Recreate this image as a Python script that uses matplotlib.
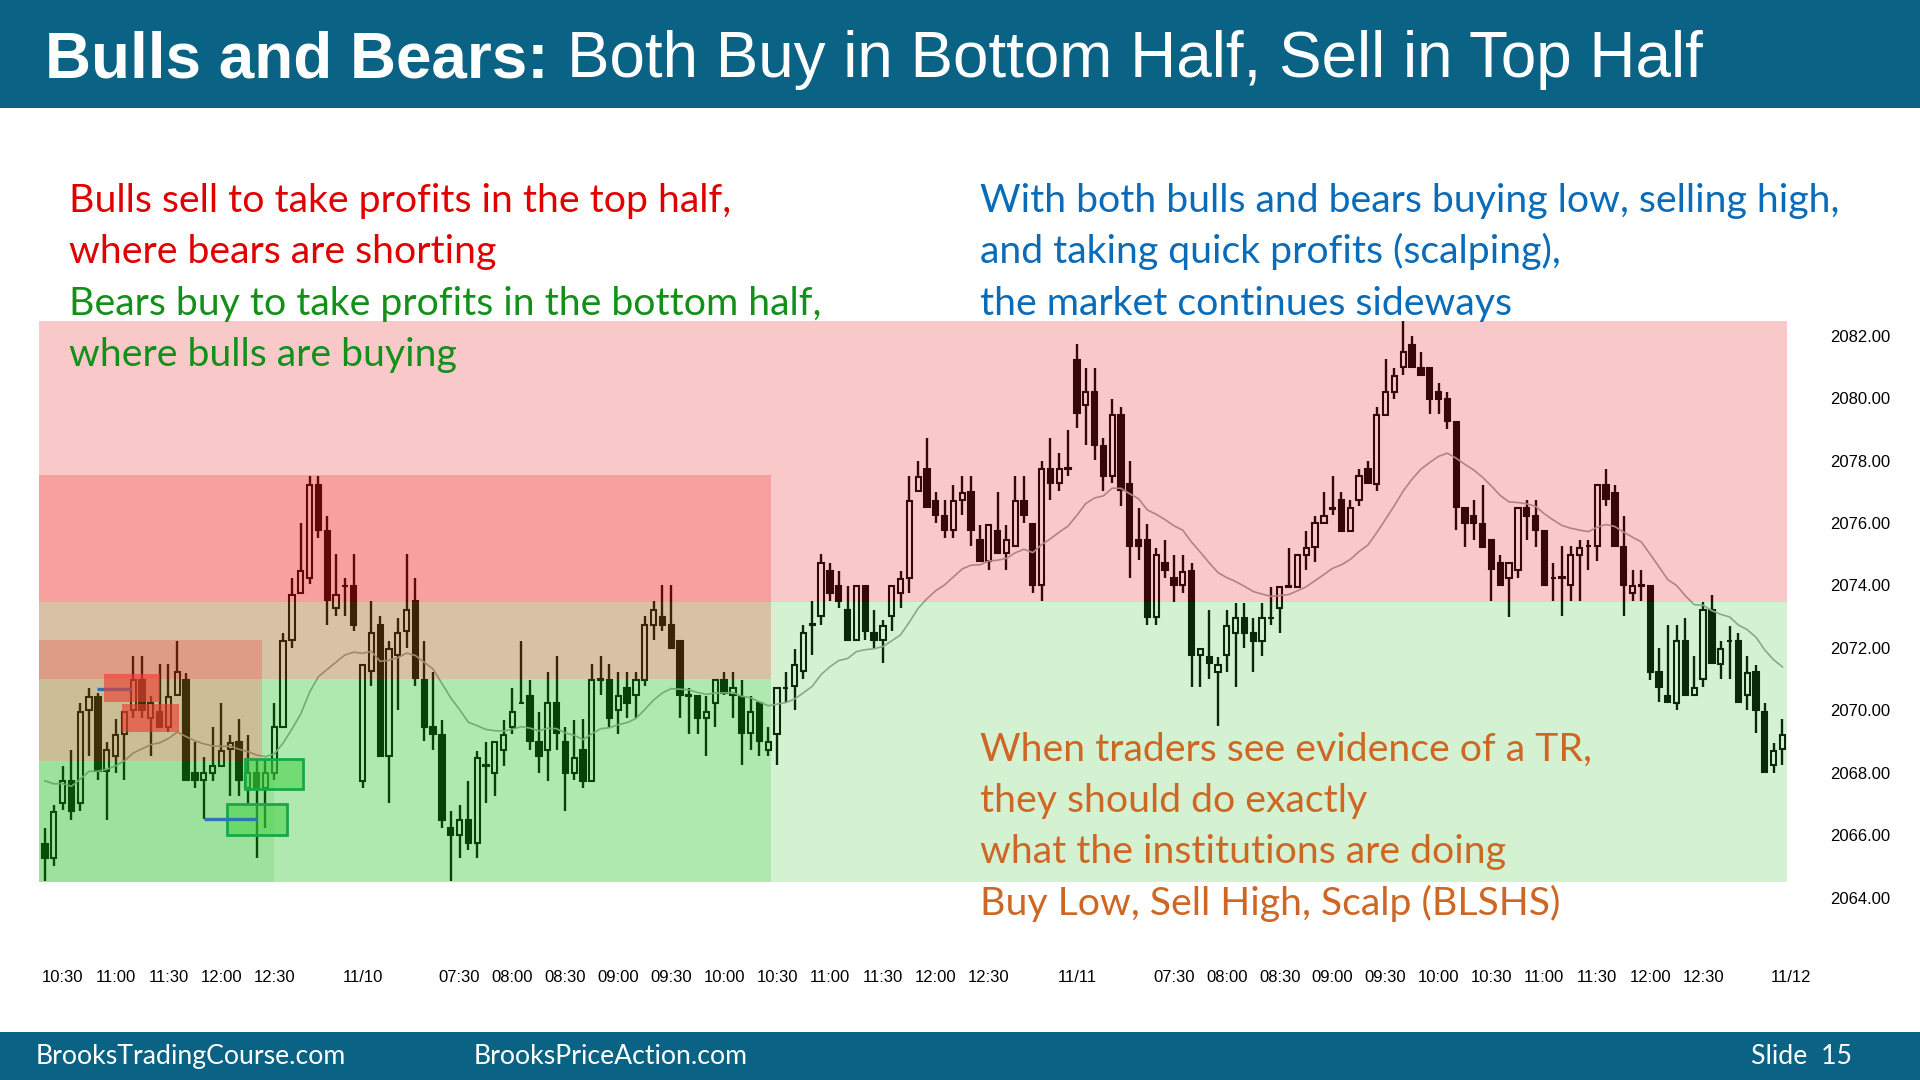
import numpy as np
import pandas as pd
import matplotlib
matplotlib.use("Agg")
import matplotlib.pyplot as plt
from matplotlib.patches import Rectangle
import matplotlib.colors as mcolors

W, H, DPI = 1920, 1080, 100

# ---------------- data ----------------
sessions = [("11/09", "10:20", 36), ("11/10", "06:35", 81), ("11/11", "06:35", 81)]
next_session_label = "11/12"

opens = [2065.72, 2065.26, 2067.03, 2067.72, 2067.03, 2070.02, 2070.44, 2068.04, 2068.52, 2069.25,
         2070.02, 2070.98, 2069.75, 2069.96, 2069.48, 2070.50, 2070.98, 2067.99, 2067.77, 2067.99,
         2068.22, 2068.76, 2068.97, 2067.51, 2067.99, 2067.51, 2067.99, 2069.48, 2072.26, 2073.76,
         2074.24, 2077.23, 2075.73, 2073.28, 2073.97, 2073.99, 2067.72, 2071.25, 2072.74, 2068.52,
         2071.78, 2072.53, 2073.49, 2070.98, 2069.48, 2069.22, 2066.22, 2066.01, 2066.47, 2065.74,
         2068.22, 2067.99, 2068.74, 2069.48, 2070.23, 2070.47, 2068.97, 2068.74, 2070.23, 2068.97,
         2067.99, 2068.74, 2067.75, 2070.98, 2070.98, 2070.02, 2070.71, 2070.50, 2070.98, 2072.74,
         2072.99, 2072.74, 2072.21, 2070.47, 2070.47, 2069.75, 2070.23, 2070.98, 2070.50, 2070.44,
         2069.27, 2070.23, 2068.74, 2069.25, 2070.71, 2070.77, 2071.25, 2072.74, 2073.01, 2074.45,
         2073.99, 2073.22, 2072.26, 2073.97, 2072.47, 2072.26, 2073.01, 2073.75, 2074.24, 2077.01,
         2077.73, 2076.71, 2076.21, 2075.78, 2076.75, 2076.98, 2075.46, 2074.77, 2075.73, 2075.04,
         2075.25, 2076.71, 2075.98, 2074.02, 2077.73, 2077.28, 2077.73, 2081.23, 2079.79, 2080.21,
         2078.47, 2077.49, 2079.47, 2077.25, 2075.46, 2075.46, 2073.00, 2074.71, 2074.23, 2074.02,
         2074.47, 2071.77, 2071.72, 2071.24, 2071.77, 2072.49, 2072.95, 2072.47, 2072.23, 2072.95,
         2073.27, 2073.96, 2073.96, 2074.98, 2075.24, 2075.99, 2076.45, 2076.74, 2075.73, 2076.74,
         2077.72, 2077.25, 2079.46, 2080.21, 2080.99, 2081.71, 2080.96, 2080.96, 2080.21, 2079.98,
         2079.22, 2076.47, 2076.23, 2075.97, 2075.46, 2074.73, 2074.23, 2074.50, 2076.47, 2076.23,
         2075.73, 2074.23, 2074.24, 2074.02, 2074.98, 2075.25, 2075.25, 2077.23, 2076.96, 2075.23,
         2073.76, 2073.99, 2073.99, 2071.24, 2070.46, 2070.23, 2072.21, 2070.50, 2071.00, 2073.22,
         2071.49, 2072.21, 2072.21, 2070.50, 2071.21, 2069.96, 2068.25, 2068.76]
highs = [2066.22, 2066.97, 2068.20, 2068.74, 2070.23, 2070.71, 2070.55, 2068.97, 2069.72, 2069.99,
         2071.75, 2071.73, 2070.47, 2071.49, 2071.49, 2072.21, 2071.19, 2068.97, 2068.49, 2069.48,
         2070.23, 2069.22, 2069.72, 2069.22, 2068.41, 2068.41, 2070.23, 2072.47, 2074.24, 2076.00,
         2077.50, 2077.50, 2076.21, 2074.99, 2074.24, 2074.99, 2071.46, 2073.49, 2073.01, 2072.21,
         2072.96, 2074.99, 2074.24, 2072.21, 2071.21, 2069.70, 2066.76, 2066.97, 2067.72, 2068.71,
         2068.97, 2068.97, 2069.70, 2070.71, 2072.21, 2070.98, 2069.96, 2071.21, 2071.73, 2069.48,
         2069.70, 2069.72, 2071.49, 2071.73, 2071.49, 2071.21, 2071.21, 2071.21, 2073.01, 2073.49,
         2074.00, 2074.00, 2072.21, 2070.71, 2070.47, 2070.47, 2070.98, 2071.21, 2071.21, 2070.98,
         2070.47, 2070.23, 2069.48, 2070.71, 2071.21, 2071.96, 2072.74, 2073.49, 2074.99, 2074.72,
         2074.45, 2073.97, 2073.97, 2073.97, 2073.22, 2072.90, 2073.97, 2074.45, 2077.49, 2077.97,
         2078.72, 2076.98, 2076.75, 2077.23, 2077.49, 2077.49, 2075.94, 2075.94, 2076.98, 2075.94,
         2077.49, 2077.49, 2075.98, 2077.97, 2078.72, 2078.24, 2078.99, 2081.74, 2080.96, 2080.96,
         2078.72, 2079.97, 2079.73, 2077.97, 2076.47, 2075.97, 2075.19, 2075.46, 2074.98, 2074.98,
         2074.71, 2071.95, 2073.22, 2071.72, 2073.22, 2073.45, 2073.45, 2072.95, 2073.45, 2073.96,
         2073.96, 2075.19, 2074.98, 2075.73, 2076.23, 2076.98, 2077.49, 2076.98, 2076.74, 2077.72,
         2077.97, 2079.73, 2081.25, 2080.96, 2082.46, 2081.98, 2081.46, 2080.96, 2080.48, 2080.21,
         2079.22, 2076.47, 2076.72, 2077.22, 2075.46, 2074.98, 2074.71, 2076.47, 2076.72, 2076.72,
         2075.73, 2074.71, 2075.25, 2075.25, 2075.46, 2075.46, 2077.23, 2077.73, 2077.23, 2076.21,
         2074.48, 2074.48, 2073.99, 2072.00, 2072.74, 2072.74, 2072.95, 2071.73, 2073.46, 2073.70,
         2072.21, 2072.71, 2072.47, 2071.73, 2071.46, 2070.23, 2068.95, 2069.72]
lows = [2064.52, 2065.00, 2066.79, 2066.49, 2066.76, 2068.52, 2067.77, 2066.49, 2067.99, 2067.77,
        2069.75, 2069.75, 2068.52, 2069.45, 2069.32, 2070.50, 2067.77, 2067.51, 2066.51, 2067.72,
        2068.22, 2067.24, 2067.24, 2067.03, 2065.26, 2066.22, 2067.77, 2069.48, 2071.99, 2073.76,
        2074.03, 2075.52, 2072.74, 2073.01, 2073.01, 2072.53, 2067.51, 2070.77, 2068.52, 2067.03,
        2070.02, 2071.99, 2070.77, 2069.00, 2068.74, 2066.22, 2064.52, 2065.26, 2065.51, 2065.26,
        2067.03, 2067.24, 2068.22, 2069.25, 2070.23, 2068.74, 2067.99, 2067.75, 2068.74, 2066.76,
        2067.77, 2067.51, 2067.75, 2070.50, 2069.48, 2069.25, 2069.75, 2069.75, 2070.77, 2072.26,
        2072.53, 2071.99, 2069.75, 2069.25, 2069.25, 2068.52, 2069.48, 2070.50, 2069.75, 2068.25,
        2068.74, 2068.52, 2068.52, 2068.25, 2070.23, 2070.02, 2071.00, 2071.78, 2072.74, 2073.49,
        2073.28, 2072.26, 2072.26, 2072.26, 2071.99, 2071.51, 2072.53, 2073.27, 2073.75, 2077.01,
        2076.51, 2076.00, 2075.52, 2075.52, 2076.27, 2075.25, 2074.77, 2074.50, 2075.04, 2074.50,
        2075.25, 2076.00, 2073.75, 2073.49, 2076.75, 2077.01, 2077.49, 2079.04, 2078.50, 2078.02,
        2077.01, 2077.27, 2076.53, 2074.23, 2074.82, 2072.73, 2072.73, 2074.23, 2073.48, 2073.75,
        2070.76, 2070.76, 2070.99, 2069.50, 2071.24, 2070.76, 2071.99, 2071.24, 2071.74, 2072.73,
        2072.49, 2073.96, 2073.96, 2074.50, 2074.76, 2075.99, 2076.26, 2075.73, 2075.73, 2076.53,
        2077.27, 2077.01, 2079.46, 2079.98, 2080.75, 2080.99, 2080.75, 2079.50, 2079.50, 2079.00,
        2075.76, 2075.24, 2075.46, 2075.24, 2073.51, 2074.02, 2073.00, 2074.23, 2075.46, 2075.24,
        2074.02, 2073.51, 2073.01, 2073.49, 2073.49, 2074.50, 2074.77, 2076.53, 2075.25, 2073.01,
        2073.49, 2073.49, 2070.98, 2070.28, 2070.28, 2070.02, 2070.50, 2070.50, 2070.76, 2071.51,
        2071.00, 2071.00, 2070.25, 2070.02, 2069.27, 2068.01, 2068.00, 2068.25]
closes = [2065.26, 2066.73, 2067.72, 2066.76, 2069.96, 2070.44, 2068.04, 2068.74, 2069.22, 2069.96,
          2070.98, 2070.02, 2070.23, 2069.48, 2070.44, 2071.22, 2067.77, 2067.77, 2067.99, 2068.22,
          2068.71, 2068.95, 2067.77, 2067.99, 2067.51, 2067.99, 2069.48, 2072.21, 2073.70, 2074.45,
          2077.23, 2075.79, 2073.54, 2073.70, 2073.97, 2072.74, 2071.46, 2072.47, 2068.52, 2071.96,
          2072.47, 2073.22, 2071.03, 2069.48, 2069.25, 2066.49, 2066.01, 2066.47, 2065.74, 2068.47,
          2068.22, 2068.97, 2069.22, 2069.96, 2070.23, 2069.00, 2068.52, 2070.23, 2069.27, 2067.99,
          2068.47, 2067.75, 2070.98, 2070.98, 2069.75, 2070.47, 2070.23, 2070.98, 2072.74, 2073.22,
          2072.74, 2071.99, 2070.50, 2070.47, 2069.75, 2069.96, 2070.98, 2070.55, 2070.71, 2069.27,
          2069.96, 2069.00, 2068.97, 2070.71, 2070.71, 2071.46, 2072.47, 2072.74, 2074.72, 2073.76,
          2073.49, 2072.26, 2073.97, 2072.53, 2072.26, 2072.71, 2073.97, 2074.20, 2076.71, 2077.47,
          2076.51, 2076.27, 2075.78, 2076.71, 2076.96, 2075.78, 2074.77, 2075.94, 2075.04, 2075.44,
          2076.71, 2076.27, 2074.02, 2077.73, 2077.28, 2077.73, 2077.73, 2079.52, 2080.21, 2078.50,
          2077.49, 2079.47, 2077.06, 2075.25, 2075.25, 2073.00, 2074.98, 2074.50, 2074.02, 2074.44,
          2071.77, 2071.95, 2071.51, 2071.45, 2072.70, 2072.95, 2072.49, 2072.23, 2072.95, 2072.95,
          2073.96, 2073.96, 2074.98, 2075.19, 2075.99, 2076.23, 2076.45, 2075.73, 2076.47, 2077.49,
          2077.27, 2079.46, 2080.21, 2080.71, 2081.46, 2080.99, 2080.75, 2079.98, 2079.98, 2079.25,
          2076.51, 2075.99, 2075.99, 2075.24, 2074.52, 2074.02, 2074.71, 2076.47, 2076.23, 2075.76,
          2074.02, 2074.23, 2074.24, 2074.98, 2075.20, 2075.25, 2077.23, 2076.77, 2075.25, 2074.02,
          2073.97, 2073.99, 2071.24, 2070.76, 2070.28, 2072.21, 2070.50, 2070.71, 2073.22, 2071.51,
          2071.96, 2072.21, 2070.25, 2071.19, 2070.02, 2068.01, 2068.68, 2069.21]
ema_seed = 2068.0
ema_span = 20

y_ticks = [2064, 2066, 2068, 2070, 2072, 2074, 2076, 2078, 2080, 2082]

title_bold = "Bulls and Bears:"
title_rest = "Both Buy in Bottom Half, Sell in Top Half"
red_lines = ["Bulls sell to take profits in the top half,", "where bears are shorting"]
green_lines = ["Bears buy to take profits in the bottom half,", "where bulls are buying"]
blue_lines = ["With both bulls and bears buying low, selling high,",
              "and taking quick profits (scalping),", "the market continues sideways"]
orange_lines = ["When traders see evidence of a TR,", "they should do exactly",
                "what the institutions are doing", "Buy Low, Sell High, Scalp (BLSHS)"]
footer_left = "BrooksTradingCourse.com"
footer_mid = "BrooksPriceAction.com"
footer_right = "Slide  15"

# ---------------- styles ----------------
BAR = "#0A6384"
TEXT_FONT = ["Lato", "DejaVu Sans"]
ARIAL = ["Liberation Sans", "DejaVu Sans"]
C_RED, C_GREEN, C_BLUE, C_ORANGE = "#E00000", "#12901A", "#0A6CB8", "#CF6724"


def overlay(target_hex, dark_min=8):
    """Return (rgb, alpha) so that over white the overlay shows target colour."""
    T = np.array(mcolors.to_rgb(target_hex)) * 255
    a = 1 - (T.min() - dark_min) / 255
    c = (T - 255 * (1 - a)) / a
    return tuple(np.clip(c / 255, 0, 1)), a


fig = plt.figure(figsize=(W / DPI, H / DPI), dpi=DPI)
fig.patch.set_facecolor("white")


def fx(px):
    return px / W


def fy(py):
    return 1 - py / H


fig.add_artist(Rectangle((0, fy(108)), 1, 108 / H, transform=fig.transFigure,
                         facecolor=BAR, lw=0, zorder=0))
fig.add_artist(Rectangle((0, 0), 1, 48 / H, transform=fig.transFigure,
                         facecolor=BAR, lw=0, zorder=0))

# axes placement (pixels)
X_LIM = (-0.68, 197.55)
Y_LIM = (2063.5, 2082.6)
ax_l, ax_r = 39.0, 1791.3
ax_t, ax_b = 316.9, 913.2
ax = fig.add_axes([fx(ax_l), fy(ax_b), (ax_r - ax_l) / W, (ax_b - ax_t) / H])
ax.set_xlim(*X_LIM)
ax.set_ylim(*Y_LIM)
ax.set_facecolor("white")
for s in ax.spines.values():
    s.set_visible(False)

# ---------------- bars / time axis ----------------
bar_time, bar_day = [], []
for day, start, n in sessions:
    t0 = pd.Timestamp("2000-01-01 " + start)
    for k in range(n):
        bar_time.append((t0 + pd.Timedelta(minutes=5 * k)).strftime("%H:%M"))
        bar_day.append(day)

tick_pos, tick_lab = [], []
for i, (tm, dy) in enumerate(zip(bar_time, bar_day)):
    if i > 0 and dy != bar_day[i - 1]:
        tick_pos.append(i); tick_lab.append(dy)
    elif tm[3:] in ("00", "30") and "07:30" <= tm <= "12:30":
        tick_pos.append(i); tick_lab.append(tm)
tick_pos.append(len(bar_time)); tick_lab.append(next_session_label)

o = np.array(opens); h = np.array(highs); l = np.array(lows); c = np.array(closes)
x = np.arange(len(o))
up = c >= o

ax.vlines(x, l, h, color="black", lw=1.7, zorder=2)
body_bot = np.minimum(o, c)
body_h = np.maximum(np.abs(c - o), 0.015)
ax.bar(x, body_h, bottom=body_bot, width=0.6,
       color=np.where(up, "white", "black"), edgecolor="black", linewidth=1.5, zorder=3)

ema = pd.Series([ema_seed] + closes).ewm(span=ema_span, adjust=False).mean().values[1:]
ax.plot(x, ema, color="#A2A2A2", lw=1.2, zorder=4)

# ---------------- background zones (overlay) ----------------
xL, xR = X_LIM
xB, xR2, xG2 = 82.35, 24.66, 26.0
P_TOP, P_MID, P_BOT = 2082.47, 2073.48, 2064.5
R1_TOP, R1_BOT, R2_TOP, SPLIT = 2077.54, 2071.0, 2072.26, 2068.36
zones = [
    (xL, xR, R1_TOP, P_TOP, "#F9CACA"),
    (xB, xR, P_MID, R1_TOP, "#F9CACA"),
    (xL, xB, P_MID, R1_TOP, "#F7A0A0"),
    (xL, xB, R2_TOP, P_MID, "#D8C3A6"),
    (xR2, xB, R1_BOT, R2_TOP, "#D8C3A6"),
    (xL, xR2, R1_BOT, R2_TOP, "#DD9C86"),
    (xL, xR2, SPLIT, R1_BOT, "#CBBE96"),
    (xR2, xB, SPLIT, R1_BOT, "#B1EAB0"),
    (xL, xG2, P_BOT, SPLIT, "#9DE29C"),
    (xG2, xB, P_BOT, SPLIT, "#B1EAB0"),
    (xB, xR, P_BOT, P_MID, "#D4F3D2"),
]
for x0, x1, p0, p1, col in zones:
    rgb, a = overlay(col)
    ax.add_patch(Rectangle((x0, p0), x1 - x0, p1 - p0, facecolor=rgb, alpha=a,
                           lw=0, zorder=5, antialiased=False))

# ---------------- highlight marks ----------------
ax.plot([5.85, 9.8], [2070.69, 2070.69], color="#2E75B6", lw=2.4, zorder=6,
        solid_capstyle="butt")
for (x0, x1, p0, p1) in [(6.67, 13.0, 2070.25, 2071.17), (8.68, 15.2, 2069.32, 2070.21)]:
    ax.add_patch(Rectangle((x0, p0), x1 - x0, p1 - p0, facecolor="#EE3B30", alpha=0.62,
                           lw=0, zorder=7))
for (x0, x1, p0, p1) in [(22.7, 29.3, 2067.47, 2068.43), (20.6, 27.4, 2066.01, 2066.99)]:
    ax.add_patch(Rectangle((x0, p0), x1 - x0, p1 - p0, facecolor=(0.26, 0.82, 0.26, 0.55),
                           edgecolor="#18A84A", lw=2.0, zorder=7))
ax.plot([18.0, 24.0], [2066.52, 2066.52], color="#2E75B6", lw=2.4, zorder=8,
        solid_capstyle="butt")

# ---------------- ticks ----------------
ax.set_yticks(y_ticks)
ax.set_yticklabels([f"{v:.2f}" for v in y_ticks])
ax.yaxis.tick_right()
ax.set_xticks(tick_pos)
ax.set_xticklabels(tick_lab)
ax.tick_params(axis="y", length=0, pad=28, labelsize=12)
ax.tick_params(axis="x", length=0, pad=41, labelsize=12)
for lab in ax.get_xticklabels() + ax.get_yticklabels():
    lab.set_fontfamily(ARIAL)

# ---------------- texts ----------------
t_b = fig.text(fx(45), fy(77), title_bold, color="white", fontsize=46, fontweight="bold",
               family=ARIAL, va="baseline", ha="left")
t_r = fig.text(fx(567), fy(77), title_rest, color="white", fontsize=46,
               family=ARIAL, va="baseline", ha="left")

ann = []
for k, s in enumerate(red_lines):
    ann.append(fig.text(fx(68.6), fy([211.8, 263.3][k]), s, color=C_RED, fontsize=30,
                        family=TEXT_FONT, va="baseline"))
for k, s in enumerate(green_lines):
    ann.append(fig.text(fx(68.6), fy([314.7, 366.2][k]), s, color=C_GREEN, fontsize=30,
                        family=TEXT_FONT, va="baseline"))
for k, s in enumerate(blue_lines):
    ann.append(fig.text(fx(979.6), fy([211.8, 263.3, 314.7][k]), s, color=C_BLUE, fontsize=30,
                        family=TEXT_FONT, va="baseline"))
for k, s in enumerate(orange_lines):
    ann.append(fig.text(fx(979.6), fy([760.4, 811.8, 863.3, 914.7][k]), s, color=C_ORANGE,
                        fontsize=30, family=TEXT_FONT, va="baseline"))
ann_targets = [660, 432, 750.6, 390.6, 863, 588, 532.6, 610, 387, 531, 563]

foot = [fig.text(fx(35.5), fy(1064), footer_left, color="white", fontsize=20,
                 family=TEXT_FONT, va="baseline"),
        fig.text(fx(474), fy(1064), footer_mid, color="white", fontsize=20,
                 family=TEXT_FONT, va="baseline"),
        fig.text(fx(1751), fy(1064), footer_right, color="white", fontsize=20,
                 family=TEXT_FONT, va="baseline")]
foot_targets = [311, 274, 100]

fig.canvas.draw()
rend = fig.canvas.get_renderer()


def fit_group(texts, targets):
    ratios = [tg / t.get_window_extent(rend).width for t, tg in zip(texts, targets)]
    s = float(np.mean(ratios))
    for t in texts:
        t.set_fontsize(t.get_fontsize() * s)


fit_group([t_b, t_r], [501, 1141])
fit_group(ann, ann_targets)
fit_group(foot, foot_targets)

fig.savefig("out.png", dpi=DPI, facecolor="white")
